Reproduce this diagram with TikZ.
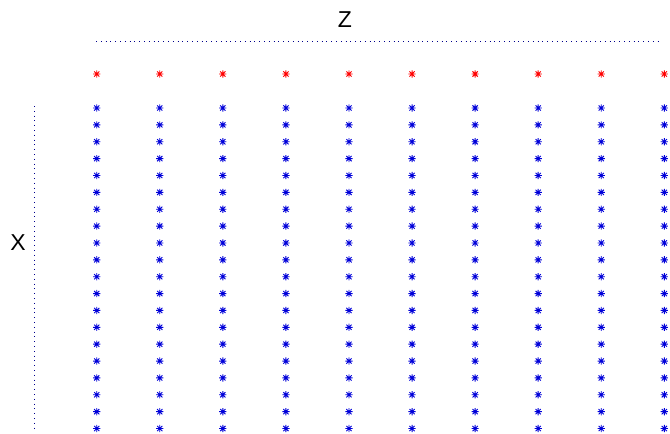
\documentclass[tikz,border=0pt]{standalone}
\usepackage{fontspec}
\setmainfont{Liberation Sans}
\usetikzlibrary{positioning}
\tikzset{
  axl/.style ={draw=blue!55!black, line width=0.7pt, dash pattern=on 0.8pt off 4pt},
  lab/.style ={font=\fontsize{23}{27}\selectfont, inner sep=0pt},
  astr/.pic  ={\draw[line width=0.9pt] (-3.6,0)--(3.6,0) (0,-3.6)--(0,3.6)
                (-2.6,-2.6)--(2.6,2.6) (-2.6,2.6)--(2.6,-2.6);},
}
\begin{document}
\begin{tikzpicture}[x=1pt, y=-1pt]
  \useasboundingbox (0,0) rectangle (670,434);
  % axis labels
  \node[lab] (zlab) at (345,20) {Z};
  \node[lab] (xlab) at (18,243) {X};
  % dotted guides
  \coordinate (zl) at (96,41);
  \coordinate (zr) at (661,41);
  \coordinate (xt) at (34,106);
  \coordinate (xb) at (34,430);
  \draw[axl] (zl)--(zr);
  \draw[axl] (xt)--(xb);
  % sources (red) and grid (blue)
  \foreach \i in {0,...,9}{
    \pic[red] at ({96.7+63.07*\i},74) {astr};
    \foreach \j in {0,...,19}
      \pic[blue!85!black] at ({96.7+63.07*\i},{108+16.87*\j}) {astr};
  }
\end{tikzpicture}
\end{document}
